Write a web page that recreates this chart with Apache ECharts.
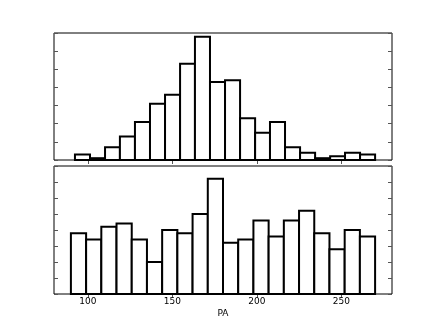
<!DOCTYPE html>
<html>
<head>
    <meta charset="UTF-8">
    <title>PA histograms</title>
    <script src="https://cdn.jsdelivr.net/npm/echarts/dist/echarts.min.js"></script>
</head>
<body style="margin:0;background:#fff;">
    <div id="main" style="width: 436px;height:327px;"></div>
    <script type="text/javascript">
        var myChart = echarts.init(document.getElementById('main'));

        // bin edges (PA) and counts
        var topEdges = [92.4, 101.3, 110.2, 119.0, 127.9, 136.8, 145.7, 154.6, 163.4, 172.3, 181.2,
                        190.1, 199.0, 207.8, 216.7, 225.6, 234.5, 243.4, 252.2, 261.1, 270.0];
        var topCounts = [3, 1, 7, 13, 21, 31, 36, 53, 68, 43, 44, 23, 15, 21, 7, 4, 1, 2, 4, 3];

        var bottomEdges = [90, 99, 108, 117, 126, 135, 144, 153, 162, 171, 180,
                           189, 198, 207, 216, 225, 234, 243, 252, 261, 270];
        var bottomCounts = [19, 17, 21, 22, 17, 10, 20, 19, 25, 36, 16, 17, 23, 18, 23, 26, 19, 14, 20, 18];

        var xTicks = [100, 150, 200, 250];

        function toBins(edges, counts) {
            var out = [];
            for (var i = 0; i < counts.length; i++) {
                out.push([edges[i], edges[i + 1], counts[i]]);
            }
            return out;
        }

        function renderBar(params, api) {
            var p0 = api.coord([api.value(0), api.value(2)]);
            var p1 = api.coord([api.value(1), 0]);
            return {
                type: 'rect',
                shape: { x: p0[0], y: p0[1], width: p1[0] - p0[0], height: p1[1] - p0[1] },
                style: { fill: '#fff', stroke: '#000', lineWidth: 2 }
            };
        }

        var tickStyle = { show: true, inside: true, length: 4, lineStyle: { color: '#555', width: 1 } };

        function xAxisFor(gridIndex, position, showLabel) {
            return {
                type: 'value', gridIndex: gridIndex, position: position,
                min: 80, max: 280,
                axisLine: { show: false },
                splitLine: { show: false },
                axisTick: Object.assign({ customValues: xTicks }, tickStyle),
                axisLabel: {
                    show: showLabel, customValues: xTicks, margin: 3,
                    color: '#000', fontFamily: 'DejaVu Sans', fontSize: 9
                },
                name: showLabel ? 'PA' : '',
                nameLocation: 'middle', nameGap: 15,
                nameTextStyle: { color: '#000', fontFamily: 'DejaVu Sans', fontSize: 9 }
            };
        }

        function yAxisFor(gridIndex, position, max, interval) {
            return {
                type: 'value', gridIndex: gridIndex, position: position,
                min: 0, max: max, interval: interval,
                axisLine: { show: false },
                splitLine: { show: false },
                axisTick: tickStyle,
                axisLabel: { show: false }
            };
        }

        var option = {
            animation: false,
            grid: [
                { left: 54, right: 44, top: 33, height: 127, show: true, borderColor: '#000', borderWidth: 1 },
                { left: 54, right: 44, top: 166, height: 128, show: true, borderColor: '#000', borderWidth: 1 }
            ],
            xAxis: [
                xAxisFor(0, 'bottom', false),
                xAxisFor(0, 'top', false),
                xAxisFor(1, 'bottom', true),
                xAxisFor(1, 'top', false)
            ],
            yAxis: [
                yAxisFor(0, 'left', 70, 10),
                yAxisFor(0, 'right', 70, 10),
                yAxisFor(1, 'left', 40, 5),
                yAxisFor(1, 'right', 40, 5)
            ],
            series: [
                {
                    type: 'custom', xAxisIndex: 0, yAxisIndex: 0,
                    data: toBins(topEdges, topCounts),
                    encode: { x: [0, 1], y: 2 },
                    renderItem: renderBar
                },
                {
                    type: 'custom', xAxisIndex: 2, yAxisIndex: 2,
                    data: toBins(bottomEdges, bottomCounts),
                    encode: { x: [0, 1], y: 2 },
                    renderItem: renderBar
                }
            ]
        };

        myChart.setOption(option);
    </script>
</body>
</html>
